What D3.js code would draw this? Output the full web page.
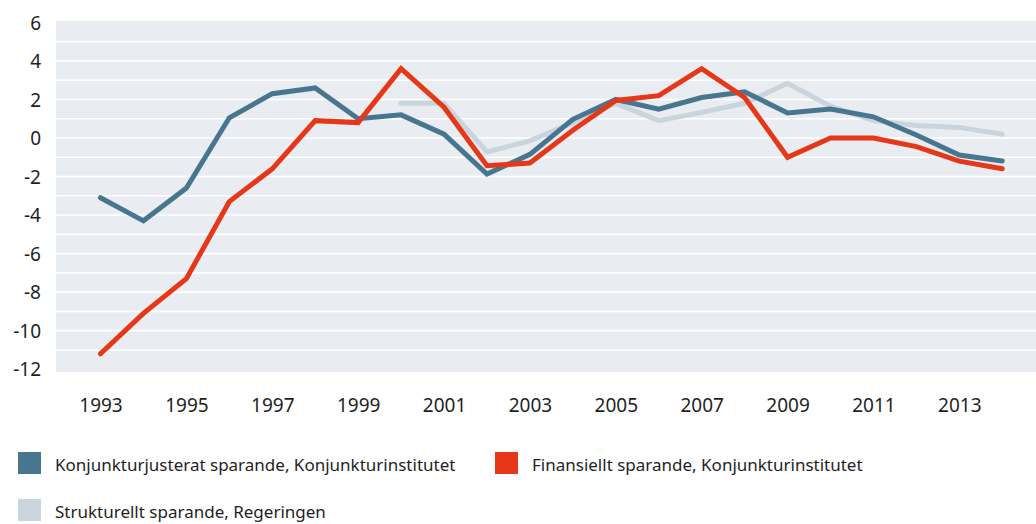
<!DOCTYPE html>
<html>
<head>
<meta charset="utf-8">
<script src="https://cdn.jsdelivr.net/npm/d3@7"></script>
<style>
  body { margin: 0; background: #fff; }
  text { font-family: "Noto Sans", sans-serif; fill: #1f1f1f; }
</style>
</head>
<body>
<script>
"use strict";
var svg_width = 1036;
var svg_height = 524;

// ---data
var years = [1993, 1994, 1995, 1996, 1997, 1998, 1999, 2000, 2001, 2002, 2003,
             2004, 2005, 2006, 2007, 2008, 2009, 2010, 2011, 2012, 2013, 2014];
var konjunkturjusterat = [-3.1, -4.3, -2.6, 1.05, 2.3, 2.6, 1.0, 1.2, 0.2, -1.87, -0.85,
                          0.97, 2.0, 1.5, 2.1, 2.4, 1.3, 1.5, 1.1, 0.16, -0.88, -1.19];
var finansiellt = [-11.2, -9.1, -7.3, -3.3, -1.6, 0.9, 0.8, 3.6, 1.6, -1.44, -1.3,
                   0.4, 1.95, 2.2, 3.6, 2.1, -1.0, 0.0, 0.0, -0.45, -1.2, -1.6];
var strukturellt = [null, null, null, null, null, null, null, 1.8, 1.8, -0.72, -0.15,
                    0.8, 1.8, 0.9, 1.33, 1.8, 2.84, 1.65, 0.9, 0.65, 0.55, 0.2];
var y_ticks = [6, 4, 2, 0, -2, -4, -6, -8, -10, -12];
var x_ticks = [1993, 1995, 1997, 1999, 2001, 2003, 2005, 2007, 2009, 2011, 2013];
var series_names = ["Konjunkturjusterat sparande, Konjunkturinstitutet",
                    "Finansiellt sparande, Konjunkturinstitutet",
                    "Strukturellt sparande, Regeringen"];
var series_colors = ["#48758f", "#e63718", "#c9d4dd"];

var plot_left = 56, plot_top = 21, plot_bottom = 372;

var svg = d3.select("body").append("svg")
    .attr("width", svg_width)
    .attr("height", svg_height);

var xscale = d3.scaleLinear()
    .domain([1993, 2013])
    .range([100.5, 959.3]);
var yscale = d3.scaleLinear()
    .domain([-12, 6])
    .range([369.2, 22.4]);

// ---plot background
svg.append("rect")
    .attr("x", plot_left)
    .attr("y", plot_top)
    .attr("width", svg_width - plot_left)
    .attr("height", plot_bottom - plot_top)
    .attr("fill", "#e9edf2");

// ---white gridlines every unit
var grid_values = d3.range(-11, 6);
svg.append("g").selectAll("line")
    .data(grid_values)
    .enter()
    .append("line")
    .attr("x1", plot_left)
    .attr("x2", svg_width)
    .attr("y1", function(d) { return yscale(d); })
    .attr("y2", function(d) { return yscale(d); })
    .attr("stroke", "#fff")
    .attr("stroke-width", 1.6);

// ---axes (no domain line, no ticks), plain hyphen for minus
var yaxis = d3.axisLeft(yscale)
    .tickValues(y_ticks)
    .tickFormat(function(d) { return String(d); })
    .tickSize(0)
    .tickPadding(0);
var ygroup = svg.append("g")
    .attr("transform", "translate(41,0)")
    .call(yaxis);
ygroup.select(".domain").remove();
ygroup.selectAll("text")
    .style("font-size", "19px")
    .style("font-family", "Noto Sans, sans-serif")
    .attr("fill", "#1f1f1f")
    .attr("dy", "0.35em");

var xaxis = d3.axisBottom(xscale).tickValues(x_ticks).tickFormat(d3.format("d")).tickSize(0).tickPadding(0);
var xgroup = svg.append("g")
    .attr("transform", "translate(0,398)")
    .call(xaxis);
xgroup.select(".domain").remove();
xgroup.selectAll("text")
    .style("font-size", "19px")
    .style("font-family", "Noto Sans, sans-serif")
    .attr("fill", "#1f1f1f")
    .attr("dy", "0.71em");

// ---lines
var line = d3.line()
    .defined(function(d) { return d[1] != null; })
    .x(function(d) { return xscale(d[0]); })
    .y(function(d) { return yscale(d[1]); });

var all_series = [strukturellt, konjunkturjusterat, finansiellt];
var draw_colors = [series_colors[2], series_colors[0], series_colors[1]];
all_series.forEach(function(values, i)
{
    var pts = years.map(function(y, j) { return [y, values[j]]; });
    svg.append("path")
        .datum(pts)
        .attr("d", line)
        .attr("fill", "none")
        .attr("stroke", draw_colors[i])
        .attr("stroke-width", 5)
        .attr("stroke-linejoin", "miter")
        .attr("stroke-linecap", "round");
});

// ---legend
var legend_pos = [[18, 452], [495, 452], [18, 499]];
var legend = svg.append("g").selectAll("g")
    .data(series_names)
    .enter()
    .append("g")
    .attr("transform", function(d, i) { return "translate(" + legend_pos[i][0] + "," + legend_pos[i][1] + ")"; });
legend.append("rect")
    .attr("width", 23)
    .attr("height", 22)
    .attr("fill", function(d, i) { return series_colors[i]; });
legend.append("text")
    .attr("x", 37)
    .attr("y", 19)
    .style("font-size", "17px")
    .text(function(d) { return d; });
</script>
</body>
</html>
